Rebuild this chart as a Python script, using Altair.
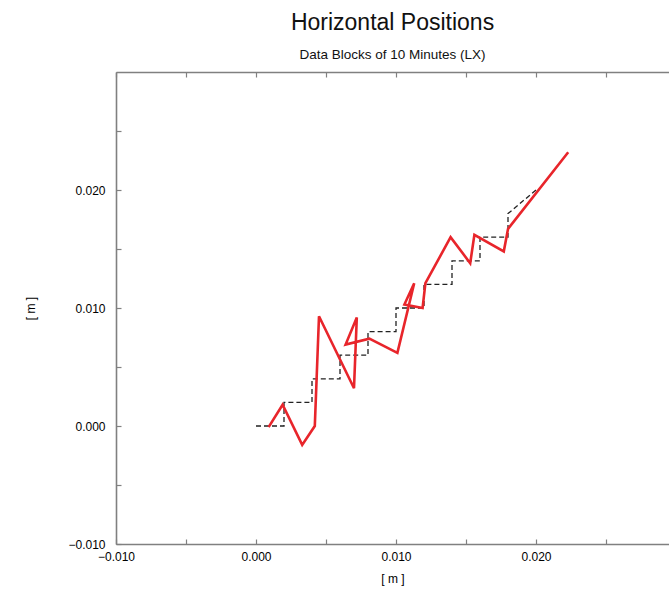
import altair as alt
import pandas as pd

# Black dashed reference path
black_x = [0.000, 0.002, 0.002, 0.004, 0.004, 0.006, 0.006, 0.008, 0.008, 0.010,
           0.010, 0.012, 0.012, 0.014, 0.014, 0.016, 0.016, 0.018, 0.018, 0.020]
black_y = [0.000, 0.000, 0.002, 0.002, 0.004, 0.004, 0.006, 0.006, 0.008, 0.008,
           0.010, 0.010, 0.012, 0.012, 0.014, 0.014, 0.016, 0.016, 0.018, 0.020]

# Red measured path
red_x = [0.0009, 0.0019, 0.0033, 0.0042, 0.0045, 0.0070, 0.0072, 0.0064, 0.0081,
         0.0101, 0.0113, 0.0106, 0.0119, 0.0121, 0.0139, 0.0153, 0.0156, 0.0177,
         0.0180, 0.0223]
red_y = [-0.0001, 0.0018, -0.0016, 0.0000, 0.0093, 0.0032, 0.0092, 0.0069, 0.0074,
         0.0062, 0.0121, 0.0103, 0.0100, 0.0121, 0.0160, 0.0138, 0.0162, 0.0148,
         0.0167, 0.0232]

tick_vals_x = [-0.010, -0.005, 0.000, 0.005, 0.010, 0.015, 0.020, 0.025]
tick_vals_y = [-0.010, -0.005, 0.000, 0.005, 0.010, 0.015, 0.020, 0.025]

black_df = pd.DataFrame({"x": black_x, "y": black_y, "i": range(len(black_x))})
red_df = pd.DataFrame({"x": red_x, "y": red_y, "i": range(len(red_x))})

FONT = "Liberation Sans"
AX = "#808080"
W, H = 553, 472
label_expr = "round(datum.value*1000) % 10 == 0 ? format(datum.value, '.3f') : ''"

xscale = alt.Scale(domain=[-0.010, 0.0295], nice=False, zero=False)
yscale = alt.Scale(domain=[-0.010, 0.030], nice=False, zero=False)

# bottom axis drawn as a "top" axis moved to the bottom so its ticks point inward
x_bottom = alt.Axis(orient="top", offset=-H, values=tick_vals_x, labelExpr=label_expr,
                    title="[ m ]", titleFont=FONT, titleFontSize=12,
                    titleFontWeight="normal", titleColor="#000",
                    titleY=38, titleX=W / 2,
                    titleAlign="center", titleBaseline="alphabetic",
                    labelFont=FONT, labelFontSize=12, labelColor="#000",
                    labelPadding=-24, labelBaseline="bottom",
                    tickSize=5, tickColor=AX, tickWidth=1.2,
                    domainColor=AX, domainWidth=1.6, grid=False, labelFlush=False)
# top frame with inward ticks
x_top = alt.Axis(orient="bottom", offset=-H, values=tick_vals_x, labels=False, title=None,
                 tickSize=5, tickColor=AX, tickWidth=1.2, domainColor=AX, domainWidth=1.6,
                 grid=False)
# left axis drawn as a "right" axis moved to the left so its ticks point inward
y_left = alt.Axis(orient="right", offset=-W, values=tick_vals_y, labelExpr=label_expr,
                  title="[ m ]", titleFont=FONT, titleFontSize=12,
                  titleFontWeight="normal", titleColor="#000",
                  titleX=-86, titleY=H / 2, titleAngle=270,
                  titleAlign="center", titleBaseline="middle",
                  labelFont=FONT, labelFontSize=12, labelColor="#000",
                  labelPadding=-16, labelAlign="right", labelBaseline="middle",
                  tickSize=5, tickColor=AX, tickWidth=1.2,
                  domainColor=AX, domainWidth=1.6, grid=False, labelFlush=False)

black = alt.Chart(black_df).mark_line(
    color="#222222", strokeWidth=1.3, strokeDash=[5, 3], clip=True
).encode(
    x=alt.X("x:Q", scale=xscale, axis=x_bottom),
    y=alt.Y("y:Q", scale=yscale, axis=y_left),
    order="i:Q",
)
red = alt.Chart(red_df).mark_line(
    color="#e8252b", strokeWidth=2.6, clip=True
).encode(
    x=alt.X("x:Q", scale=xscale, axis=x_top),
    y=alt.Y("y:Q", scale=yscale, axis=y_left),
    order="i:Q",
)

chart = alt.layer(black, red).resolve_axis(x="independent").properties(
    width=W, height=H,
    padding={"left": 116, "top": 72, "right": 0, "bottom": 47},
    autosize=alt.AutoSizeParams(type="none"),
    title=alt.TitleParams(
        text="Horizontal Positions", subtitle="Data Blocks of 10 Minutes (LX)",
        anchor="middle", font=FONT, fontSize=23, fontWeight="normal", color="#111",
        subtitleFont=FONT, subtitleFontSize=13.5, subtitleColor="#111",
        subtitlePadding=13, offset=10,
    ),
).configure_view(stroke=None).configure(background="white")

chart.save("out.html", embed_options={"renderer": "svg", "actions": False})
